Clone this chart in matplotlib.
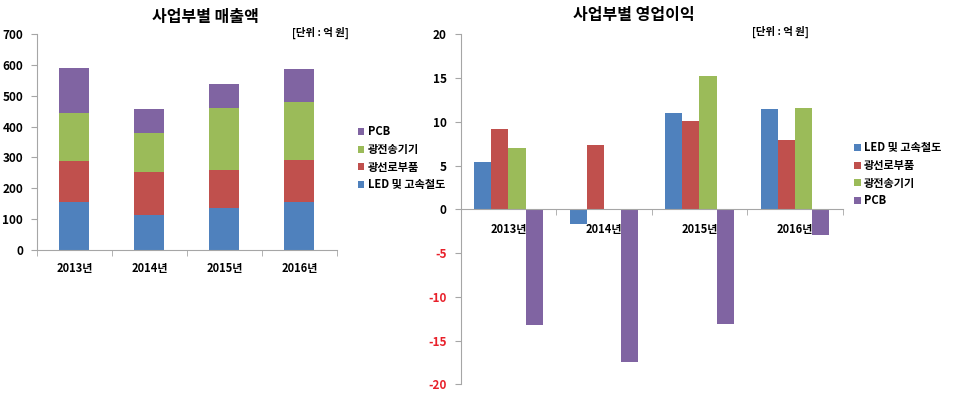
import numpy as np
import matplotlib

matplotlib.use('Agg')
import matplotlib.pyplot as plt

plt.rcParams['font.family'] = ['Noto Sans CJK KR', 'DejaVu Sans']
plt.rcParams['font.weight'] = 'bold'
plt.rcParams['axes.unicode_minus'] = False

# Data (unit: 억 원)
years = ['2013년', '2014년', '2015년', '2016년']
segments = ['LED 및 고속철도', '광선로부품', '광전송기기', 'PCB']
colors = ['#4F81BD', '#C0504D', '#9BBB59', '#8064A2']

sales_led = [157, 113, 137, 154]
sales_line = [132, 140, 122, 138]
sales_trans = [154, 126, 201, 189]
sales_pcb = [147, 78, 79, 105]

profit_led = [5.4, -1.7, 11.0, 11.5]
profit_line = [9.2, 7.3, 10.1, 7.9]
profit_trans = [7.0, 0.0, 15.25, 11.6]
profit_pcb = [-13.25, -17.4, -13.15, -2.95]

axis_gray = '#A6A6A6'

fig = plt.figure(figsize=(9.6, 3.98), dpi=100)

# ---- left: stacked sales ----
ax1 = fig.add_axes([0.0385, 0.372, 0.3125, 0.542])
x = np.arange(len(years))
bottom = np.zeros(len(years))
sales = [sales_led, sales_line, sales_trans, sales_pcb]
for seg, vals, c in zip(segments, sales, colors):
    ax1.bar(x, vals, width=0.4, bottom=bottom, color=c, label=seg, zorder=2)
    bottom += np.array(vals)

ax1.set_xlim(-0.5, 3.5)
ax1.set_ylim(0, 700)
ax1.set_yticks(np.arange(0, 701, 100))
ax1.set_xticks(x)
ax1.set_xticklabels(years)
ax1.set_xticks(np.arange(-0.5, 3.6, 1), minor=True)
ax1.tick_params(axis='x', which='major', length=0, pad=9, labelsize=8)
ax1.tick_params(axis='x', which='minor', length=4, color=axis_gray)
ax1.tick_params(axis='y', length=4, color=axis_gray, labelsize=8.5, pad=6)
for s in ['top', 'right']:
    ax1.spines[s].set_visible(False)
for s in ['left', 'bottom']:
    ax1.spines[s].set_color(axis_gray)
for lbl in ax1.get_xticklabels() + ax1.get_yticklabels():
    lbl.set_fontweight('bold')

h, l = ax1.get_legend_handles_labels()
ax1.legend(h[::-1], l[::-1], loc='upper left', bbox_to_anchor=(0.362, 0.71),
           bbox_transform=fig.transFigure, frameon=False,
           handlelength=0.6, handleheight=0.6, handletextpad=0.3,
           labelspacing=0.42, prop={'weight': 'bold', 'size': 8})

fig.text(0.214, 0.957, '사업부별 매출액', ha='center', va='center', fontsize=11.5, fontweight='bold')
fig.text(0.334, 0.917, '[단위 : 억 원]', ha='center', va='center', fontsize=7.5, fontweight='bold')

# ---- right: grouped profit ----
ax2 = fig.add_axes([0.4799, 0.0344, 0.3979, 0.8794])
w = 0.18
profits = [profit_led, profit_line, profit_trans, profit_pcb]
for i, (seg, vals, c) in enumerate(zip(segments, profits, colors)):
    ax2.bar(x + (i - 1.5) * w, vals, width=w, color=c, label=seg, zorder=2)

ax2.set_xlim(-0.5, 3.5)
ax2.set_ylim(-20, 20)
ax2.set_yticks(np.arange(-20, 21, 5))
ax2.spines['bottom'].set_position(('data', 0))
ax2.set_xticks(x)
ax2.set_xticklabels(years)
ax2.set_xticks(np.arange(-0.5, 3.6, 1), minor=True)
ax2.tick_params(axis='x', which='major', length=0, pad=10, labelsize=8)
ax2.tick_params(axis='x', which='minor', length=4, color=axis_gray)
ax2.tick_params(axis='y', length=4, color=axis_gray, labelsize=8.5, pad=6)
for s in ['top', 'right']:
    ax2.spines[s].set_visible(False)
for s in ['left', 'bottom']:
    ax2.spines[s].set_color(axis_gray)
for lbl in ax2.get_xticklabels():
    lbl.set_fontweight('bold')
for val, lbl in zip(ax2.get_yticks(), ax2.get_yticklabels()):
    lbl.set_fontweight('bold')
    if val < 0:
        lbl.set_color('#E8202A')

ax2.legend(loc='upper left', bbox_to_anchor=(0.879, 0.67),
           bbox_transform=fig.transFigure, frameon=False,
           handlelength=0.6, handleheight=0.6, handletextpad=0.3,
           labelspacing=0.42, prop={'weight': 'bold', 'size': 8})

fig.text(0.66, 0.962, '사업부별 영업이익', ha='center', va='center', fontsize=11.5, fontweight='bold')
fig.text(0.813, 0.92, '[단위 : 억 원]', ha='center', va='center', fontsize=7.5, fontweight='bold')

fig.savefig('out.png', dpi=100)
